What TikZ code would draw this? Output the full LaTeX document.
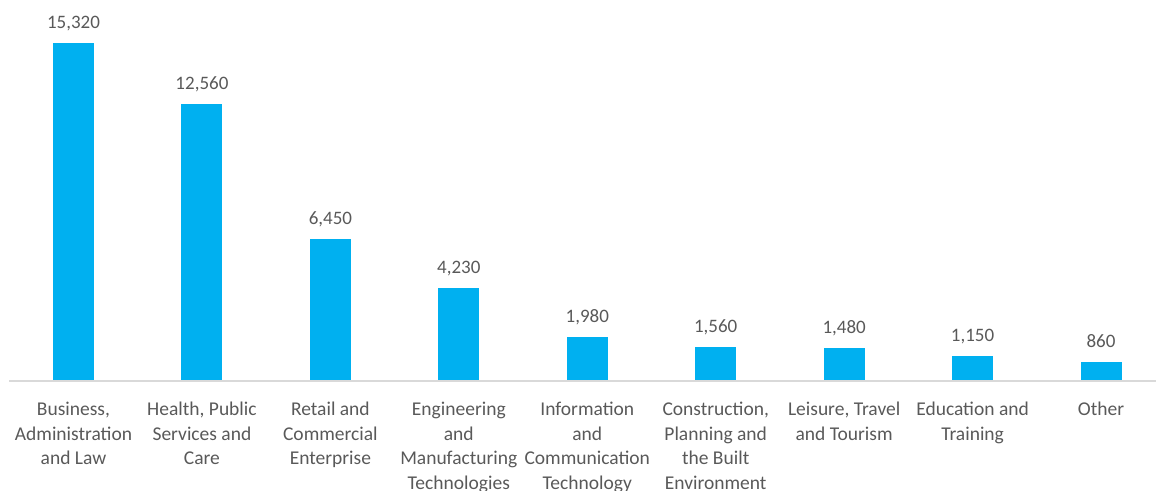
\documentclass[tikz,border=0pt]{standalone}
\usepackage{fontspec}
\setmainfont{Carlito}
\definecolor{barblue}{HTML}{00B0F0}
\definecolor{txtgrey}{HTML}{595959}
\definecolor{axisgrey}{HTML}{D9D9D9}
\begin{document}
\begin{tikzpicture}[x=1pt,y=1pt,
  bar/.style={fill=barblue,draw=none},
  vlabel/.style={anchor=base,inner sep=0pt,text=txtgrey,font=\fontsize{19}{24.5}\selectfont},
  clabel/.style={anchor=north,inner sep=0pt,align=center,text=txtgrey,font=\fontsize{19.5}{24.5}\selectfont},
  axisline/.style={draw=axisgrey,line width=1.2pt}]
\useasboundingbox (0,0) rectangle (1159,490);
\def\base{109}
\foreach \i/\v/\lab in {0/15320/{15,320},1/12560/{12,560},2/6450/{6,450},3/4230/{4,230},4/1980/{1,980},5/1560/{1,560},6/1480/{1,480},7/1150/{1,150},8/860/{860}}{
  \pgfmathsetmacro{\cx}{73.5+128.44*\i}
  \pgfmathsetmacro{\h}{\v*0.02206}
  \path[bar] (\cx-20.5,\base) rectangle (\cx+20.5,\base+\h) node[coordinate] (top\i) {};
  \node[vlabel] (val\i) at (\cx,\base+\h+14.5) {\lab};
}
\draw[axisline] (9,\base) coordinate (axL) -- (1156,\base) coordinate (axR);
\foreach \i/\t in {0/{Business,\\Administration\\and Law},1/{Health, Public\\Services and\\Care},2/{Retail and\\Commercial\\Enterprise},3/{Engineering\\and\\Manufacturing\\Technologies},4/{Information\\and\\Communication\\Technology},5/{Construction,\\Planning and\\the Built\\Environment},6/{Leisure, Travel\\and Tourism},7/{Education and\\Training},8/{Other}}{
  \pgfmathsetmacro{\cx}{73.5+128.44*\i}
  \node[clabel] (cat\i) at (\cx,88) {\t};
}
\end{tikzpicture}
\end{document}
